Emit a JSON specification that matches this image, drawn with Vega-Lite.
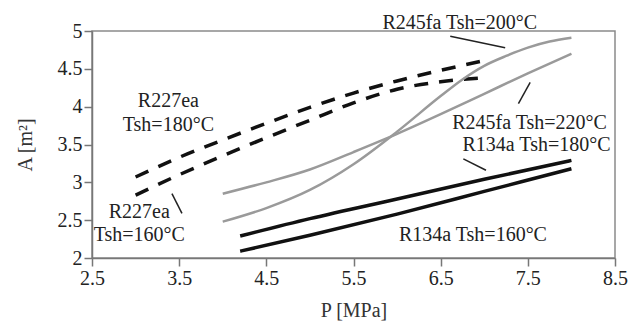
{
  "$schema": "https://vega.github.io/schema/vega-lite/v6.json",
  "autosize": {"type": "none"},
  "width": 523,
  "height": 227,
  "padding": {"left": 92, "top": 31, "right": 15, "bottom": 68},
  "background": "white",
  "config": {
    "view": {"stroke": "#8a8a8a", "strokeWidth": 1.5},
    "font": "Liberation Serif",
    "axis": {
      "grid": false,
      "domainColor": "#777777",
      "domainWidth": 1.5,
      "tickColor": "#777777",
      "tickWidth": 1.5,
      "tickSize": 8,
      "labelFont": "Liberation Serif",
      "labelFontSize": 20,
      "labelColor": "#222222",
      "titleFont": "Liberation Serif",
      "titleFontSize": 20,
      "titleFontWeight": "normal",
      "titleColor": "#333333"
    }
  },
  "datasets": {
    "curves": [
      {"series": "R227ea Tsh=180°C", "p": 3.0, "a": 3.07},
      {"series": "R227ea Tsh=180°C", "p": 3.5, "a": 3.33},
      {"series": "R227ea Tsh=180°C", "p": 4.0, "a": 3.56},
      {"series": "R227ea Tsh=180°C", "p": 4.5, "a": 3.78},
      {"series": "R227ea Tsh=180°C", "p": 5.0, "a": 3.99},
      {"series": "R227ea Tsh=180°C", "p": 5.5, "a": 4.18},
      {"series": "R227ea Tsh=180°C", "p": 6.0, "a": 4.34},
      {"series": "R227ea Tsh=180°C", "p": 6.5, "a": 4.48},
      {"series": "R227ea Tsh=180°C", "p": 7.0, "a": 4.61},
      {"series": "R227ea Tsh=160°C", "p": 3.0, "a": 2.83},
      {"series": "R227ea Tsh=160°C", "p": 3.5, "a": 3.1},
      {"series": "R227ea Tsh=160°C", "p": 4.0, "a": 3.35},
      {"series": "R227ea Tsh=160°C", "p": 4.5, "a": 3.59},
      {"series": "R227ea Tsh=160°C", "p": 5.0, "a": 3.82},
      {"series": "R227ea Tsh=160°C", "p": 5.5, "a": 4.05},
      {"series": "R227ea Tsh=160°C", "p": 6.0, "a": 4.23},
      {"series": "R227ea Tsh=160°C", "p": 6.5, "a": 4.33},
      {"series": "R227ea Tsh=160°C", "p": 7.0, "a": 4.38},
      {"series": "R245fa Tsh=200°C", "p": 4.0, "a": 2.48},
      {"series": "R245fa Tsh=200°C", "p": 4.5, "a": 2.66},
      {"series": "R245fa Tsh=200°C", "p": 5.0, "a": 2.9},
      {"series": "R245fa Tsh=200°C", "p": 5.5, "a": 3.24},
      {"series": "R245fa Tsh=200°C", "p": 6.0, "a": 3.67},
      {"series": "R245fa Tsh=200°C", "p": 6.5, "a": 4.14},
      {"series": "R245fa Tsh=200°C", "p": 6.75, "a": 4.36},
      {"series": "R245fa Tsh=200°C", "p": 7.0, "a": 4.54},
      {"series": "R245fa Tsh=200°C", "p": 7.25, "a": 4.67},
      {"series": "R245fa Tsh=200°C", "p": 7.5, "a": 4.78},
      {"series": "R245fa Tsh=200°C", "p": 7.75, "a": 4.86},
      {"series": "R245fa Tsh=200°C", "p": 8.0, "a": 4.91},
      {"series": "R245fa Tsh=220°C", "p": 4.0, "a": 2.85},
      {"series": "R245fa Tsh=220°C", "p": 4.5, "a": 3.0},
      {"series": "R245fa Tsh=220°C", "p": 5.0, "a": 3.17},
      {"series": "R245fa Tsh=220°C", "p": 5.5, "a": 3.4},
      {"series": "R245fa Tsh=220°C", "p": 6.0, "a": 3.64},
      {"series": "R245fa Tsh=220°C", "p": 6.5, "a": 3.9},
      {"series": "R245fa Tsh=220°C", "p": 7.0, "a": 4.17},
      {"series": "R245fa Tsh=220°C", "p": 7.5, "a": 4.44},
      {"series": "R245fa Tsh=220°C", "p": 8.0, "a": 4.7},
      {"series": "R134a Tsh=180°C", "p": 4.2, "a": 2.29},
      {"series": "R134a Tsh=180°C", "p": 5.0, "a": 2.52},
      {"series": "R134a Tsh=180°C", "p": 6.0, "a": 2.78},
      {"series": "R134a Tsh=180°C", "p": 7.0, "a": 3.04},
      {"series": "R134a Tsh=180°C", "p": 8.0, "a": 3.29},
      {"series": "R134a Tsh=160°C", "p": 4.2, "a": 2.09},
      {"series": "R134a Tsh=160°C", "p": 5.0, "a": 2.3},
      {"series": "R134a Tsh=160°C", "p": 6.0, "a": 2.58},
      {"series": "R134a Tsh=160°C", "p": 7.0, "a": 2.88},
      {"series": "R134a Tsh=160°C", "p": 8.0, "a": 3.18}
    ],
    "leaders": [
      {"p": 6.61, "a": 4.93, "p2": 7.24, "a2": 4.78},
      {"p": 7.527, "a": 4.32, "p2": 7.392, "a2": 4.04},
      {"p": 6.76, "a": 3.31, "p2": 7.02, "a2": 3.16},
      {"p": 3.417, "a": 2.85, "p2": 3.532, "a2": 2.59}
    ],
    "labels": [
      {"text": "R245fa Tsh=200°C", "p": 6.72, "a": 5.11},
      {"text": "R245fa Tsh=220°C", "p": 7.52, "a": 3.78},
      {"text": "R134a Tsh=180°C", "p": 7.6, "a": 3.49},
      {"text": "R134a Tsh=160°C", "p": 6.87, "a": 2.31},
      {"text": "R227ea", "p": 3.376, "a": 4.08},
      {"text": "Tsh=180°C", "p": 3.376, "a": 3.752},
      {"text": "R227ea", "p": 3.043, "a": 2.608},
      {"text": "Tsh=160°C", "p": 3.043, "a": 2.306}
    ]
  },
  "encoding": {
    "x": {
      "field": "p", "type": "quantitative",
      "scale": {"domain": [2.5, 8.5], "nice": false, "zero": false},
      "axis": {"values": [2.5, 3.5, 4.5, 5.5, 6.5, 7.5, 8.5], "format": ".1~f", "title": "P [MPa]", "labelPadding": 2, "titlePadding": 12, "labelFlush": false}
    },
    "y": {
      "field": "a", "type": "quantitative",
      "scale": {"domain": [2, 5], "nice": false, "zero": false},
      "axis": {"values": [2, 2.5, 3, 3.5, 4, 4.5, 5], "format": ".1~f", "title": "A [m²]", "labelPadding": 2, "titlePadding": 22, "labelFlush": false}
    }
  },
  "layer": [
    {
      "data": {"name": "curves"},
      "transform": [{"filter": "indexof(datum.series, 'R227ea') >= 0"}],
      "mark": {"type": "line", "interpolate": "monotone", "color": "#111111", "strokeWidth": 3.5, "strokeDash": [14, 11]},
      "encoding": {"detail": {"field": "series"}}
    },
    {
      "data": {"name": "curves"},
      "transform": [{"filter": "indexof(datum.series, 'R245fa') >= 0"}],
      "mark": {"type": "line", "interpolate": "monotone", "color": "#9a9a9a", "strokeWidth": 2.5},
      "encoding": {"detail": {"field": "series"}}
    },
    {
      "data": {"name": "curves"},
      "transform": [{"filter": "indexof(datum.series, 'R134a') >= 0"}],
      "mark": {"type": "line", "interpolate": "monotone", "color": "#111111", "strokeWidth": 3.5},
      "encoding": {"detail": {"field": "series"}}
    },
    {
      "data": {"name": "leaders"},
      "mark": {"type": "rule", "color": "#222222", "strokeWidth": 1.5},
      "encoding": {
        "x2": {"field": "p2"},
        "y2": {"field": "a2"}
      }
    },
    {
      "data": {"name": "labels"},
      "mark": {"type": "text", "font": "Liberation Serif", "fontSize": 20, "color": "#222222", "align": "center", "baseline": "middle"},
      "encoding": {"text": {"field": "text"}}
    }
  ]
}
